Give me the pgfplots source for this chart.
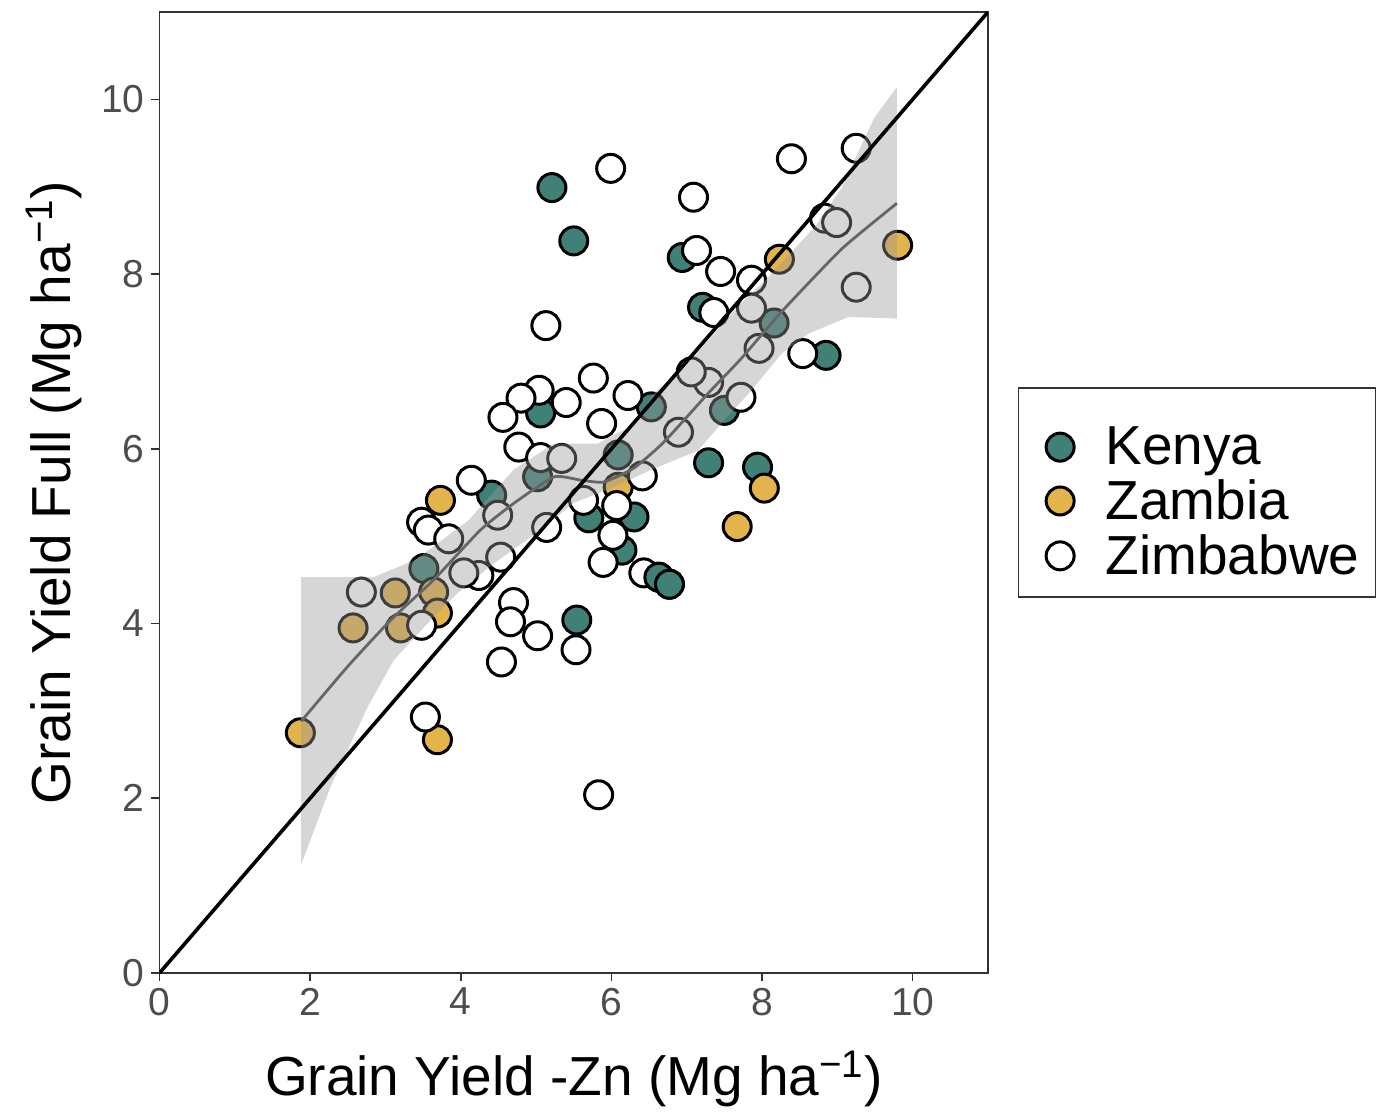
\documentclass[border=0pt]{standalone}
\usepackage{pgfplots}
\pgfplotsset{compat=1.18}
\usepackage{fontspec}
\setmainfont{Liberation Sans}
\usetikzlibrary{calc}

\definecolor{kenya}{RGB}{64,128,118}
\definecolor{zambia}{RGB}{228,180,76}
\definecolor{ribbon}{RGB}{153,153,153}
\definecolor{loess}{RGB}{102,102,102}
\definecolor{ticklab}{RGB}{77,77,77}

\pgfplotsset{
  country/.style={only marks, mark=*, mark size=7pt,
    mark options={fill=#1, draw=black},
    legend image code/.code={
      \path (0pt,0pt) (34pt,0pt);
      \draw[##1] plot coordinates {(14pt,0pt)};}},
}

\begin{document}
\begin{tikzpicture}
  \begin{axis}[
    name=ax,
    scale only axis,
    width=414.25pt, height=480.5pt,
    xmin=0, xmax=11, ymin=0, ymax=11,
    xtick={0,2,...,10}, ytick={0,2,...,10},
    tick align=outside, tick pos=left,
    major tick length=4pt,
    every tick/.style={black!80, line width=0.8pt},
    axis line style={black!80, line width=0.8pt},
    clip marker paths=true,
    /pgf/number format/assume math mode=true,
    tick label style={font=\fontsize{19.5}{23}\selectfont, text=ticklab},
    label style={font=\fontsize{27.5}{33}\selectfont},
    xlabel={Grain Yield -Zn (Mg ha\textsuperscript{−1})},
    ylabel={Grain Yield Full (Mg ha\textsuperscript{−1})},
    xlabel style={yshift=-11pt},
    ylabel style={yshift=2.5pt},
    legend style={at={(1.036,0.5)}, anchor=west, draw=black!80, line width=0.8pt,
      font=\fontsize{27.5}{27}\selectfont, inner xsep=6pt, inner ysep=8pt,
      row sep=2pt},
    legend cell align=left,
    every axis plot/.append style={line width=1.5pt},
  ]
  % spacer row on top of the legend
  \addlegendimage{empty legend}
  \addlegendentry[inner sep=0pt, text height=6pt]{}
  % --- points: Kenya ---
  \addplot[country=kenya] coordinates {
    (5.21,8.99) (5.50,8.38) (6.94,8.19) (7.21,7.62) (8.16,7.44) (8.85,7.07)
    (6.53,6.48) (7.50,6.44) (5.06,6.41) (7.29,5.84) (7.94,5.79) (4.41,5.47)
    (5.02,5.68) (6.09,5.93) (5.70,5.21) (6.30,5.22) (6.14,4.84) (6.63,4.53)
    (6.77,4.45) (3.51,4.63) (5.54,4.04)};
  \addlegendentry{Kenya}
  % --- points: Zambia ---
  \addplot[country=zambia] coordinates {
    (9.80,8.33) (8.23,8.17) (8.03,5.55) (7.67,5.11) (6.09,5.56) (3.73,5.41)
    (3.13,4.35) (3.64,4.36) (3.69,4.12) (2.57,3.95) (3.20,3.95) (1.87,2.75)
    (3.69,2.67)};
  \addlegendentry{Zambia}
  % --- points: Zimbabwe ---
  \addplot[country=white] coordinates {
    (5.99,9.21) (7.09,8.88) (8.39,9.32) (9.25,9.44) (7.13,8.27) (7.45,8.03)
    (7.86,7.93) (8.83,8.64) (8.99,8.59) (9.25,7.85) (7.36,7.56) (7.86,7.61)
    (7.96,7.15) (8.54,7.09) (7.72,6.59) (7.29,6.76) (7.06,6.88) (5.13,7.41)
    (5.76,6.81) (5.87,6.29) (6.22,6.61) (5.40,6.53) (5.04,6.67) (4.80,6.58)
    (4.56,6.36) (4.77,6.02) (5.06,5.90) (5.34,5.89) (6.89,6.19) (4.14,5.64)
    (3.48,5.16) (3.57,5.07) (3.84,4.97) (4.49,5.24) (5.14,5.10) (5.63,5.41)
    (6.07,5.35) (6.41,5.69) (6.02,5.01) (5.89,4.70) (6.43,4.58) (4.53,4.76)
    (4.24,4.55) (4.04,4.58) (2.68,4.36) (3.48,3.98) (4.70,4.24) (4.66,4.02)
    (5.02,3.86) (5.53,3.70) (4.54,3.56) (3.53,2.93) (5.83,2.04)};
  \addlegendentry{Zimbabwe}
  % a few Kenya points sit on top of Zimbabwe ones
  \addplot[country=kenya, forget plot] coordinates {(6.63,4.53) (6.77,4.45)};
  % --- loess confidence band ---
  \addplot[forget plot, draw=none, fill=ribbon, fill opacity=0.4] coordinates {
    (1.88,4.53) (2.84,4.53) (3.40,4.73) (4.10,5.18) (4.70,5.76) (5.24,6.06)
    (5.82,6.06) (6.30,6.28) (6.57,6.64) (6.97,6.93) (7.72,7.67) (8.08,7.96)
    (8.70,8.54) (9.06,8.99) (9.49,9.79) (9.79,10.14)
    (9.79,7.49) (9.15,7.51) (8.62,7.32) (8.26,7.09) (7.86,6.67) (7.50,6.33)
    (7.15,5.98) (6.50,5.75) (6.03,5.56) (5.50,5.38) (5.06,5.07) (4.44,4.69)
    (3.96,4.35) (3.60,4.04) (3.11,3.58) (2.76,3.04) (2.27,2.13) (1.88,1.24)
    (1.88,4.53)};
  % --- loess fit ---
  \addplot[forget plot, loess, line width=1.4pt, smooth, tension=0.3] coordinates {
    (1.88,2.88) (2.49,3.50) (3.07,4.04) (3.64,4.50) (4.26,5.07) (4.71,5.38)
    (5.24,5.68) (5.60,5.64) (5.90,5.62) (6.30,5.78) (6.70,6.08) (7.29,6.64)
    (7.72,7.03) (8.26,7.57) (9.06,8.29) (9.79,8.81)};
  % --- 1:1 line ---
  \addplot[forget plot, black, line width=1.8pt] coordinates {(0,0) (11,11)};
  \end{axis}
  \pgfresetboundingbox
  \path ($(ax.south west)+(-79.75pt,-70pt)$) rectangle ($(ax.north east)+(195.5pt,6pt)$);
\end{tikzpicture}
\end{document}
